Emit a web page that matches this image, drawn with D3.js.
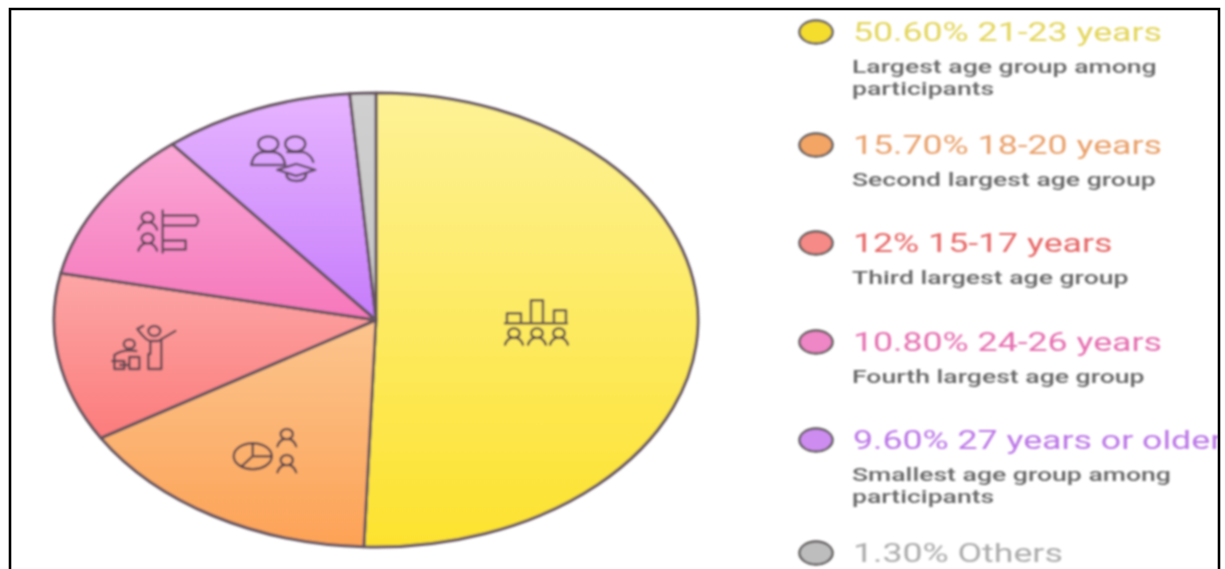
<!DOCTYPE html>
<html><head><meta charset="utf-8">
<script src="https://cdn.jsdelivr.net/npm/d3@7"></script>
<style>html,body{margin:0;padding:0;background:#fff;overflow:hidden}svg{display:block}</style>
</head><body><svg id="c" width="1225" height="569"></svg>
<script>
const percents = [50.6, 15.7, 12, 10.8, 9.6, 1.3];
const percentLabels = ["50.60%", "15.70%", "12%", "10.80%", "9.60%", "1.30%"];
const groups = ["21-23 years", "18-20 years", "15-17 years", "24-26 years", "27 years or older", "Others"];
const notes = [
  ["Largest age group among", "participants"],
  ["Second largest age group"],
  ["Third largest age group"],
  ["Fourth largest age group"],
  ["Smallest age group among", "participants"],
  []
];
const gradTop = ["#fdf296", "#fcc58e", "#fda6a6", "#fba8d6", "#e6b4ff", "#d0d0d0"];
const gradBottom = ["#fde22e", "#fda256", "#fc7c7c", "#f577bb", "#c67cfb", "#c4c4c4"];
const swatch = ["#f5dd2e", "#f3a566", "#f58a86", "#ef86c6", "#cd8df0", "#bdbdbd"];
const titleColors = ["#e3d55c", "#e9a06a", "#e76666", "#e56fb0", "#bb76e6", "#ababab"];
const legendY = [32, 145, 243, 342, 440, 553];

const svg = d3.select("#c");
const W = 1225, H = 569, cx = 376, cy = 320, rx = 322, ry = 227;
const defs = svg.append("defs");
defs.append("filter").attr("id","soft").attr("filterUnits","userSpaceOnUse")
  .attr("x",0).attr("y",0).attr("width",W).attr("height",H)
  .append("feGaussianBlur").attr("stdDeviation",0.8);
defs.append("clipPath").attr("id","inner").append("rect").attr("x",0).attr("y",0).attr("width",1218).attr("height",H);

const pie = d3.pie().sort(null).value(d=>d);
const arcs = pie(percents);
const arc = d3.arc().innerRadius(0).outerRadius(ry);

// one vertical gradient per slice, spanning that slice's own vertical extent
arcs.forEach((a,i)=>{
  const steps = d3.range(0,41).map(k=>a.startAngle+(a.endAngle-a.startAngle)*k/40);
  const ys = steps.map(t=>-Math.cos(t)*ry).concat([0]);
  const g = defs.append("linearGradient").attr("id","g"+i).attr("gradientUnits","userSpaceOnUse")
    .attr("x1",0).attr("x2",0).attr("y1",d3.min(ys)).attr("y2",d3.max(ys));
  g.append("stop").attr("offset",0).attr("stop-color",gradTop[i]);
  g.append("stop").attr("offset",1).attr("stop-color",gradBottom[i]);
});

const outer = svg.append("g").attr("clip-path","url(#inner)");
const root = outer.append("g").attr("filter","url(#soft)");
const pieG = root.append("g").attr("transform",`translate(${cx},${cy}) scale(${rx/ry},1)`);
pieG.selectAll("path").data(arcs).join("path")
  .attr("d",arc).attr("fill",(d,i)=>`url(#g${i})`)
  .attr("stroke","#65545e").attr("stroke-width",3).attr("stroke-linejoin","round")
  .attr("vector-effect","non-scaling-stroke");

// icons, placed along each slice's mid-angle
const iconReach = [0.5, 0.67, 0.73, 0.75, 0.77];
const iconInk = "rgba(75,60,72,.85)";
const person = (g,x,y,s=1)=>{
  g.append("ellipse").attr("cx",x).attr("cy",y).attr("rx",5.5*s).attr("ry",4.6*s);
  g.append("path").attr("d",`M${x-8.5*s},${y+11*s} Q${x-7*s},${y+6*s} ${x-2.5*s},${y+4.4*s} M${x+8.5*s},${y+11*s} Q${x+7*s},${y+6*s} ${x+2.5*s},${y+4.4*s}`);
};
const iconDraw = [
  g=>{
    g.append("path").attr("d","M-32,1 H30 M-30,1 V-9 H-16 V1 M-6,1 V-22 H6 V1 M17,1 V-12 H29 V1");
    [-23,0,22].forEach(x=>person(g,x,11,1.05));
  },
  g=>{
    g.append("ellipse").attr("cx",-14).attr("cy",5).attr("rx",19).attr("ry",13);
    g.append("path").attr("d","M-14,5 V-8 M-14,5 H5 M-14,5 L-25,15");
    person(g,20,-17,1.1); person(g,20,9,1.1);
  },
  g=>{
    g.append("ellipse").attr("cx",10).attr("cy",-17).attr("rx",6).attr("ry",5);
    g.append("path").attr("d","M-7,-19 Q2,-7 6,-7 H14 L31,-17 M6,-7 V6 M17,-9 V21 H4 V6 M-7,-19 L-1,-22");
    g.append("ellipse").attr("cx",-15).attr("cy",-4).attr("rx",5.5).attr("ry",4.5);
    g.append("path").attr("d","M-30,7 Q-22,1 -8,3 M-30,7 V13 H-22 M-32,13 H-20 V21 H-30 V13 M-15,9 H-5 V21 H-15 Z M-24,17 H-15");
  },
  g=>{
    g.append("path").attr("d","M-7,-21 V21 M-7,-16 H26 Q31,-11 26,-6 H-7 M-7,9 H16 V18 H-7");
    person(g,-22,-14,1.1); person(g,-22,7,1.1);
  },
  g=>{
    g.append("ellipse").attr("cx",-15).attr("cy",-14).attr("rx",10).attr("ry",7.5);
    g.append("ellipse").attr("cx",12).attr("cy",-14).attr("rx",10).attr("ry",7.5);
    g.append("path").attr("d","M-32,7 Q-30,-5 -20,-6 H-10 Q0,-5 2,7 Z M4,-6 H20 Q28,-3 30,4");
    g.append("path").attr("d","M-6,12 L13,6 L32,12 L13,18 Z M3,15 Q3,23 13,23 Q23,23 23,15");
  }
];
arcs.slice(0,5).forEach((a,i)=>{
  const mid = (a.startAngle+a.endAngle)/2, f = iconReach[i];
  const g = root.append("g")
    .attr("transform",`translate(${cx+Math.sin(mid)*rx*f},${cy-Math.cos(mid)*ry*f})`)
    .attr("fill","none").attr("stroke",iconInk).attr("stroke-width",2.5)
    .attr("stroke-linecap","round").attr("stroke-linejoin","round");
  iconDraw[i](g);
});

// legend
const textX = 853, stretch = 1.4, titleStretch = 1.428;
const legend = root.selectAll("g.lg").data(percents).join("g").attr("class","lg")
  .attr("transform",(d,i)=>`translate(0,${legendY[i]})`);
legend.append("ellipse").attr("cx",816).attr("cy",0).attr("rx",16.5).attr("ry",11.5)
  .attr("fill",(d,i)=>swatch[i]).attr("stroke","#5f5a5a").attr("stroke-width",2.4);
legend.append("text").attr("transform",`translate(${textX},9) scale(${titleStretch},1)`)
  .attr("font-family","Roboto").attr("font-size",25).attr("font-weight",400)
  .attr("fill",(d,i)=>titleColors[i]).text((d,i)=>percentLabels[i]+" "+groups[i]);
legend.each(function(d,i){
  const g = d3.select(this);
  notes[i].forEach((line,k)=>{
    g.append("text").attr("transform",`translate(${textX-1},${41+k*22}) scale(${stretch},1)`)
      .attr("font-family","Roboto").attr("font-size",19).attr("font-weight",500).attr("fill","#666").text(line);
  });
});

// frame
svg.append("path").attr("d",`M10,${H+2} V9 H1219 V${H+2}`).attr("fill","none").attr("stroke","#000").attr("stroke-width",2.6);
</script></body></html>
